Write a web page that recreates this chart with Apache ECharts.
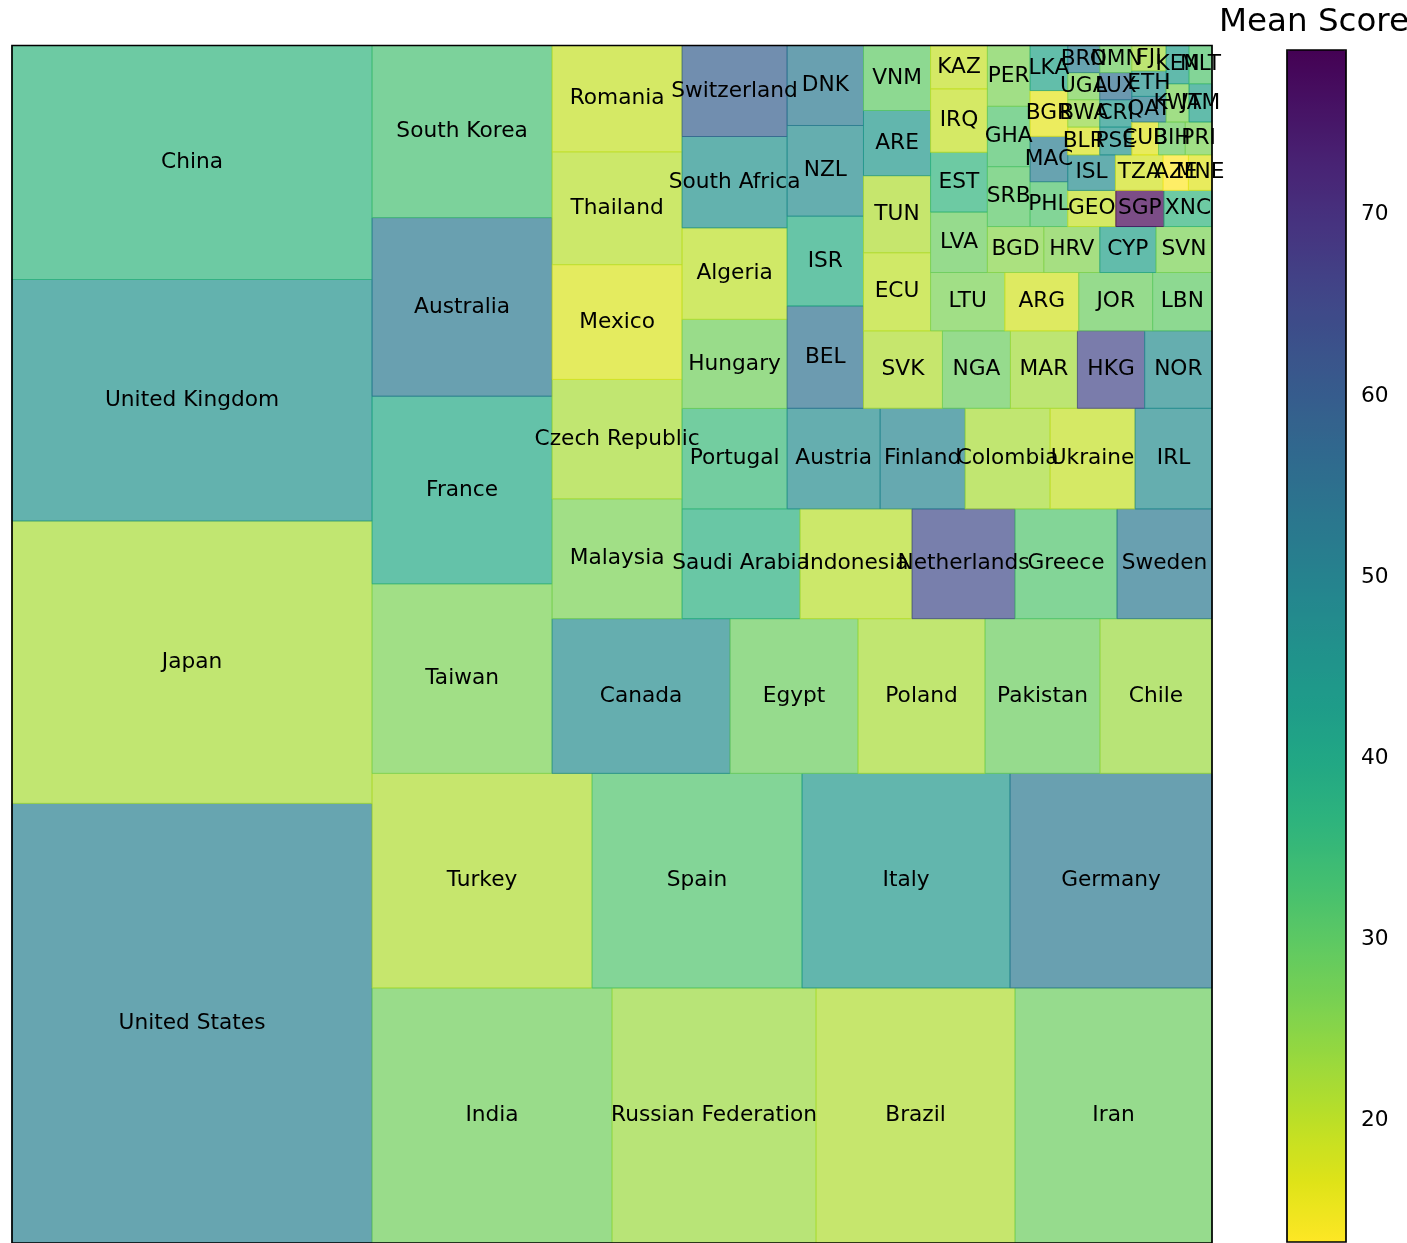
<!DOCTYPE html>
<html>
<head>
<meta charset="utf-8">
<script src="https://cdn.jsdelivr.net/npm/echarts@6/dist/echarts.min.js"></script>
<style>
  html, body { margin: 0; padding: 0; background: #fff; }
  #chart { width: 1407px; height: 1243px; }
</style>
</head>
<body>
<div id="chart"></div>
<script>
// country labels, in the order they are laid out
const countries = [
  'United States', 'Japan', 'United Kingdom', 'China',
  'India', 'Russian Federation', 'Brazil', 'Iran',
  'Turkey', 'Spain', 'Italy', 'Germany',
  'Taiwan', 'France', 'Australia', 'South Korea',
  'Canada', 'Egypt', 'Poland', 'Pakistan', 'Chile',
  'Malaysia', 'Czech Republic', 'Mexico', 'Thailand', 'Romania',
  'Saudi Arabia', 'Indonesia', 'Netherlands', 'Greece', 'Sweden',
  'Portugal', 'Hungary', 'Algeria', 'South Africa', 'Switzerland',
  'Austria', 'Finland', 'Colombia', 'Ukraine', 'IRL',
  'BEL', 'ISR', 'NZL', 'DNK',
  'SVK', 'NGA', 'MAR', 'HKG', 'NOR',
  'ECU', 'TUN', 'ARE', 'VNM',
  'LTU', 'ARG', 'JOR', 'LBN',
  'LVA', 'EST', 'IRQ', 'KAZ',
  'BGD', 'HRV', 'CYP', 'SVN',
  'SRB', 'GHA', 'PER',
  'PHL', 'MAC', 'BGR', 'LKA',
  'GEO', 'SGP', 'XNC',
  'ISL', 'TZA', 'AZE', 'MNE',
  'BLR', 'BWA', 'UGA', 'BRN',
  'PSE', 'CRI', 'LUX', 'OMN',
  'CUB', 'BIH', 'PRI',
  'QAT', 'ETH', 'FJI',
  'KWT', 'JAM',
  'KEN', 'MLT'
];

// tile sizes (relative)
const sizes = [
  1585.8, 1018.8, 871.2, 844.2,
  613.2, 521.2, 508.4, 503.3,
  473.0, 451.5, 447.2, 434.3,
  342.0, 338.4, 322.2, 310.5,
  275.9, 198.4, 196.9, 178.3, 173.6,
  156.0, 155.5, 149.5, 146.9, 138.5,
  129.8, 123.2, 113.3, 112.2, 104.5,
  105.7, 93.8, 96.3, 96.2, 95.8,
  93.7, 85.6, 85.6, 85.6, 77.5,
  78.3, 68.7, 69.4, 61.2,
  61.3, 52.8, 52.0, 52.2, 52.3,
  52.5, 51.8, 43.8, 43.7,
  43.4, 43.2, 43.2, 34.7,
  34.4, 34.0, 36.1, 24.7,
  26.0, 25.8, 25.9, 25.8,
  25.6, 25.8, 26.0,
  16.9, 17.1, 17.3, 17.0,
  17.4, 17.4, 17.4,
  17.0, 17.0, 9.0, 8.4,
  8.9, 8.8, 8.7, 8.7,
  8.9, 8.8, 8.7, 8.7,
  8.8, 8.8, 8.8,
  8.8, 8.8, 8.7,
  8.8, 8.8,
  8.8, 8.8
];

// mean score per country (colour)
const scores = [
  50.9, 22.0, 46.3, 36.4,
  27.9, 23.3, 21.3, 28.5,
  21.3, 31.8, 44.3, 52.9,
  26.6, 39.7, 52.9, 33.1,
  47.6, 28.5, 22.0, 28.5, 23.3,
  26.6, 22.0, 17.3, 20.6, 19.3,
  37.7, 20.6, 64.7, 31.8, 52.9,
  35.1, 27.9, 20.0, 46.3, 59.5,
  47.6, 49.6, 22.0, 19.3, 47.6,
  54.9, 38.4, 47.6, 52.9,
  21.3, 28.5, 22.6, 66.0, 47.6,
  20.0, 21.3, 44.3, 29.9,
  26.6, 18.0, 28.5, 29.9,
  28.5, 36.4, 19.3, 19.3,
  25.2, 25.9, 41.7, 26.6,
  30.5, 31.8, 26.6,
  31.8, 51.6, 16.0, 41.0,
  19.3, 79.1, 36.4,
  47.6, 18.0, 13.3, 16.7,
  17.3, 24.0, 26.6, 51.0,
  46.3, 44.3, 55.5, 28.5,
  16.7, 28.5, 26.6,
  51.6, 46.3, 22.6,
  26.6, 41.7,
  43.0, 31.8
];

const colorTicks = [20, 30, 40, 50, 60, 70];

// viridis, reversed (low = yellow)
const viridisR = [
  '#fde725', '#dfe318', '#bddf26', '#9bd93c', '#7ad151', '#5ec962', '#44bf70',
  '#2fb47c', '#22a884', '#1e9c89', '#21918c', '#25848e', '#2a788e', '#2f6c8e',
  '#355f8d', '#3b528b', '#414487', '#463480', '#482475', '#471365', '#440154'
];

// squarify (same greedy layout as the python package)
function sum(a) { return a.reduce((s, v) => s + v, 0); }
function layoutRow(s, x, y, dx, dy) {
  const w = sum(s) / dy; const out = [];
  s.forEach(v => { out.push({ x: x, y: y, dx: w, dy: v / w }); y += v / w; });
  return out;
}
function layoutCol(s, x, y, dx, dy) {
  const h = sum(s) / dx; const out = [];
  s.forEach(v => { out.push({ x: x, y: y, dx: v / h, dy: h }); x += v / h; });
  return out;
}
function layout(s, x, y, dx, dy) {
  return dx >= dy ? layoutRow(s, x, y, dx, dy) : layoutCol(s, x, y, dx, dy);
}
function leftover(s, x, y, dx, dy) {
  if (dx >= dy) { const w = sum(s) / dy; return [x + w, y, dx - w, dy]; }
  const h = sum(s) / dx; return [x, y + h, dx, dy - h];
}
function worst(s, x, y, dx, dy) {
  return Math.max(...layout(s, x, y, dx, dy).map(r => Math.max(r.dx / r.dy, r.dy / r.dx)));
}
function squarify(s, x, y, dx, dy) {
  if (!s.length) return [];
  if (s.length === 1) return layout(s, x, y, dx, dy);
  let i = 1;
  while (i < s.length && worst(s.slice(0, i), x, y, dx, dy) >= worst(s.slice(0, i + 1), x, y, dx, dy)) i++;
  const lo = leftover(s.slice(0, i), x, y, dx, dy);
  return layout(s.slice(0, i), x, y, dx, dy).concat(squarify(s.slice(i), lo[0], lo[1], lo[2], lo[3]));
}

const total = sum(sizes);
const rects = squarify(sizes.map(v => v * 100 * 100 / total), 0, 0, 100, 100);
const tiles = rects.map((r, i) => ({ name: countries[i], value: [r.x, r.y, r.dx, r.dy, scores[i]] }));
const vmin = Math.min(...scores);
const vmax = Math.max(...scores);

const FONT = '"DejaVu Sans", sans-serif';
const chart = echarts.init(document.getElementById('chart'));

chart.setOption({
  animation: false,
  backgroundColor: '#fff',
  grid: [
    { left: 12, top: 45.5, width: 1200, height: 1200, show: true, z: 5,
      backgroundColor: 'transparent', borderColor: '#000', borderWidth: 1.7 },
    { left: 1287, top: 50, width: 59, height: 1192, show: true, z: 5,
      backgroundColor: 'transparent', borderColor: '#000', borderWidth: 1.7 }
  ],
  xAxis: [
    { type: 'value', gridIndex: 0, min: 0, max: 100, show: false },
    { type: 'value', gridIndex: 1, min: 0, max: 1, show: false }
  ],
  yAxis: [
    { type: 'value', gridIndex: 0, min: 0, max: 100, show: false },
    {
      type: 'value', gridIndex: 1, min: vmin, max: vmax, position: 'right',
      axisLine: { show: false },
      splitLine: { show: false },
      axisTick: { show: true, length: 7, customValues: colorTicks, lineStyle: { color: '#000', width: 1.7 } },
      axisLabel: { customValues: colorTicks, margin: 15, color: '#000', fontSize: 21.7, fontFamily: FONT }
    }
  ],
  visualMap: {
    type: 'continuous',
    seriesIndex: 0,
    dimension: 4,
    min: vmin,
    max: vmax,
    calculable: false,
    orient: 'vertical',
    left: 1287,
    top: 50,
    padding: 0,
    itemWidth: 59,
    itemHeight: 1192,
    inRange: { color: viridisR }
  },
  graphic: [{
    type: 'text', x: 1314, y: 6, z: 10,
    style: { text: 'Mean Score', font: '32.5px ' + FONT, fill: '#000', align: 'center', verticalAlign: 'top' }
  }],
  series: [
    {
      type: 'custom',
      coordinateSystem: 'cartesian2d',
      xAxisIndex: 0, yAxisIndex: 0,
      dimensions: ['x', 'y', 'dx', 'dy', 'score'],
      silent: true,
      z: 2,
      data: tiles,
      renderItem: function (params, api) {
        const x = api.value(0), y = api.value(1), dx = api.value(2), dy = api.value(3);
        const p0 = api.coord([x, y + dy]);
        const p1 = api.coord([x + dx, y]);
        const c = api.visual('color');
        return {
          type: 'rect',
          shape: { x: p0[0], y: p0[1], width: p1[0] - p0[0], height: p1[1] - p0[1] },
          style: { fill: c, stroke: c, lineWidth: 1, opacity: 0.7 }
        };
      }
    },
    {
      type: 'custom',
      coordinateSystem: 'cartesian2d',
      xAxisIndex: 0, yAxisIndex: 0,
      dimensions: ['x', 'y', 'dx', 'dy', 'score'],
      silent: true,
      z: 4,
      data: tiles,
      renderItem: function (params, api) {
        const c = api.coord([api.value(0) + api.value(2) / 2, api.value(1) + api.value(3) / 2]);
        return {
          type: 'text',
          x: c[0], y: c[1],
          style: { text: countries[params.dataIndex], font: '21.7px ' + FONT, fill: '#000', align: 'center', verticalAlign: 'middle' }
        };
      }
    }
  ]
});
</script>
</body>
</html>
